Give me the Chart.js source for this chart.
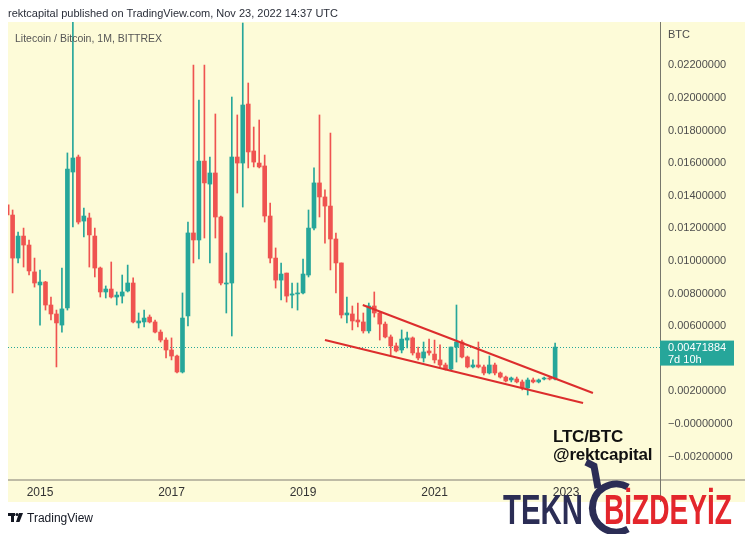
<!DOCTYPE html>
<html>
<head>
<meta charset="utf-8">
<script src="https://cdn.jsdelivr.net/npm/chart.js@4.4.1/dist/chart.umd.min.js"></script>
<style>
  body { margin: 0; background: #fff; }
  #wrap { position: relative; width: 753px; height: 534px; overflow: hidden; font-family: "Liberation Sans", Arial, sans-serif; }
  #wrap canvas { position: absolute; left: 0; top: 0; }
  .t { position: absolute; white-space: nowrap; }
  .brand { position: absolute; white-space: nowrap; transform-origin: 0 0; font-family: "Liberation Sans", Arial, sans-serif; font-weight: bold; font-size: 42px; line-height: 42px; }
</style>
</head>
<body>
<div id="wrap">
  <canvas id="ltcChart" width="753" height="534"></canvas>
  <div class="t" style="left:8px;top:7px;font-size:11px;color:#2a2e39">rektcapital published on TradingView.com, Nov 23, 2022 14:37 UTC</div>
  <div class="t" style="left:15px;top:32px;font-size:10.5px;color:#555">Litecoin / Bitcoin, 1M, BITTREX</div>
  <div class="t" style="left:553px;top:428px;font-size:17px;font-weight:bold;line-height:18px;color:#111;letter-spacing:-0.2px">LTC/BTC<br>@rektcapital</div>

  <svg style="position:absolute;left:0;top:0" width="753" height="534">
    <g fill="#131722">
      <rect x="8" y="513" width="7" height="3"/>
      <rect x="11" y="513" width="3" height="9"/>
      <circle cx="17" cy="514.5" r="1.6"/>
      <polygon points="19,513 23,513 19.5,522 16,522"/>
    </g>
    <g fill="none" stroke="#2b2d55" stroke-width="7">
      <path d="M586 462 L594 466 L598 488"/>
      <path d="M628 487 A24 24 0 1 0 628 529"/>
    </g>
  </svg>
  <div class="t" style="left:27px;top:511px;font-size:12px;color:#131722">TradingView</div>
  <div class="brand" id="brandA" data-w="80" style="left:503px;top:489px;color:#2b2d55">TEKN</div>
  <div class="brand" id="brandB" data-w="128" style="left:604px;top:489px;color:#e3262c">BİZDEYİZ</div>
</div>

<script>
// monthly candles, LTC/BTC (Bittrex)
const months = [
  '2014-07','2014-08','2014-09','2014-10','2014-11','2014-12',
  '2015-01','2015-02','2015-03','2015-04','2015-05','2015-06','2015-07','2015-08','2015-09','2015-10','2015-11','2015-12',
  '2016-01','2016-02','2016-03','2016-04','2016-05','2016-06','2016-07','2016-08','2016-09','2016-10','2016-11','2016-12',
  '2017-01','2017-02','2017-03','2017-04','2017-05','2017-06','2017-07','2017-08','2017-09','2017-10','2017-11','2017-12',
  '2018-01','2018-02','2018-03','2018-04','2018-05','2018-06','2018-07','2018-08','2018-09','2018-10','2018-11','2018-12',
  '2019-01','2019-02','2019-03','2019-04','2019-05','2019-06','2019-07','2019-08','2019-09','2019-10','2019-11','2019-12',
  '2020-01','2020-02','2020-03','2020-04','2020-05','2020-06','2020-07','2020-08','2020-09','2020-10','2020-11','2020-12',
  '2021-01','2021-02','2021-03','2021-04','2021-05','2021-06','2021-07','2021-08','2021-09','2021-10','2021-11','2021-12',
  '2022-01','2022-02','2022-03','2022-04','2022-05','2022-06','2022-07','2022-08','2022-09','2022-10','2022-11'
];

const open = [
  0.01344, 0.01282, 0.01018, 0.01153, 0.01098, 0.00933,
  0.00853, 0.00871, 0.00730, 0.00675, 0.00607, 0.00712, 0.01546, 0.01638, 0.01245, 0.01264, 0.01153, 0.00957,
  0.00810, 0.00828, 0.00779, 0.00785, 0.00816, 0.00865, 0.00620, 0.00626, 0.00656, 0.00626, 0.00564, 0.00515,
  0.00454, 0.00417, 0.00319, 0.00663, 0.01172, 0.01129, 0.01613, 0.01472, 0.01540, 0.01270, 0.00859, 0.00865,
  0.01638, 0.01601, 0.01963, 0.01675, 0.01601, 0.01583, 0.01276, 0.01018, 0.00883, 0.00926, 0.00791, 0.00798,
  0.00804, 0.00914, 0.01202, 0.01479, 0.01393, 0.01337, 0.01135, 0.00988, 0.00669, 0.00675, 0.00638, 0.00626,
  0.00571, 0.00724, 0.00681, 0.00613, 0.00534, 0.00479, 0.00454, 0.00515, 0.00528, 0.00436, 0.00405, 0.00448,
  0.00429, 0.00393, 0.00362, 0.00337, 0.00472, 0.00503, 0.00411, 0.00350, 0.00362, 0.00350, 0.00313, 0.00362,
  0.00313, 0.00288, 0.00270, 0.00276, 0.00258, 0.00221, 0.00270, 0.00258, 0.00276, 0.00282, 0.00276
];
const high = [
  0.01374, 0.01313, 0.01178, 0.01202, 0.01129, 0.01018,
  0.00945, 0.00875, 0.00779, 0.00699, 0.00957, 0.01663, 0.02600, 0.01650, 0.01325, 0.01294, 0.01202, 0.00963,
  0.00847, 0.00994, 0.00810, 0.00914, 0.00975, 0.00896, 0.00681, 0.00699, 0.00669, 0.00638, 0.00577, 0.00528,
  0.00528, 0.00423, 0.00804, 0.01239, 0.02202, 0.01988, 0.02202, 0.01638, 0.01902, 0.01276, 0.01049, 0.02006,
  0.01896, 0.02460, 0.02092, 0.01822, 0.01865, 0.01650, 0.01356, 0.01080, 0.00988, 0.00926, 0.00865, 0.00865,
  0.01012, 0.01313, 0.01571, 0.01896, 0.01436, 0.01785, 0.01172, 0.00988, 0.00779, 0.00724, 0.00742, 0.00681,
  0.00742, 0.00810, 0.00687, 0.00626, 0.00546, 0.00497, 0.00577, 0.00564, 0.00534, 0.00472, 0.00503, 0.00521,
  0.00515, 0.00485, 0.00374, 0.00472, 0.00730, 0.00515, 0.00417, 0.00393, 0.00503, 0.00362, 0.00417, 0.00374,
  0.00319, 0.00294, 0.00288, 0.00288, 0.00270, 0.00282, 0.00282, 0.00276, 0.00288, 0.00288, 0.00497
];
const low = [
  0.01270, 0.00804, 0.00988, 0.00963, 0.00914, 0.00840,
  0.00607, 0.00699, 0.00638, 0.00350, 0.00564, 0.00699, 0.01209, 0.01227, 0.01147, 0.00963, 0.00902, 0.00779,
  0.00773, 0.00773, 0.00730, 0.00742, 0.00810, 0.00620, 0.00589, 0.00595, 0.00620, 0.00558, 0.00503, 0.00405,
  0.00393, 0.00313, 0.00313, 0.00601, 0.00988, 0.01012, 0.01141, 0.00988, 0.01141, 0.00853, 0.00681, 0.00540,
  0.01417, 0.01331, 0.01571, 0.01577, 0.01571, 0.01239, 0.00988, 0.00834, 0.00761, 0.00748, 0.00712, 0.00699,
  0.00798, 0.00902, 0.01190, 0.01270, 0.01110, 0.00945, 0.00804, 0.00650, 0.00620, 0.00577, 0.00595, 0.00558,
  0.00558, 0.00656, 0.00515, 0.00528, 0.00423, 0.00442, 0.00436, 0.00466, 0.00423, 0.00393, 0.00380, 0.00423,
  0.00374, 0.00350, 0.00331, 0.00331, 0.00380, 0.00405, 0.00344, 0.00344, 0.00344, 0.00301, 0.00307, 0.00301,
  0.00282, 0.00258, 0.00258, 0.00252, 0.00209, 0.00178, 0.00252, 0.00252, 0.00270, 0.00270, 0.00270
];
const close = [
  0.01282, 0.01018, 0.01153, 0.01098, 0.00939, 0.00865,
  0.00871, 0.00730, 0.00675, 0.00620, 0.00706, 0.01564, 0.01632, 0.01239, 0.01276, 0.01160, 0.00957, 0.00810,
  0.00828, 0.00779, 0.00791, 0.00810, 0.00865, 0.00626, 0.00632, 0.00650, 0.00626, 0.00564, 0.00515, 0.00454,
  0.00417, 0.00319, 0.00650, 0.01172, 0.01129, 0.01613, 0.01479, 0.01540, 0.01270, 0.00865, 0.00865, 0.01638,
  0.01601, 0.01957, 0.01669, 0.01607, 0.01577, 0.01276, 0.01018, 0.00883, 0.00920, 0.00785, 0.00798, 0.00804,
  0.00920, 0.01202, 0.01479, 0.01393, 0.01337, 0.01135, 0.00988, 0.00669, 0.00681, 0.00632, 0.00626, 0.00571,
  0.00724, 0.00681, 0.00613, 0.00534, 0.00479, 0.00448, 0.00521, 0.00528, 0.00436, 0.00405, 0.00442, 0.00436,
  0.00393, 0.00362, 0.00337, 0.00472, 0.00503, 0.00411, 0.00350, 0.00362, 0.00350, 0.00313, 0.00362, 0.00313,
  0.00288, 0.00264, 0.00282, 0.00258, 0.00221, 0.00270, 0.00258, 0.00270, 0.00282, 0.00276, 0.00471884
];

// falling wedge drawn on the chart: [month position, price]
const wedgeUpper = [[64.9, 0.00730], [106.9, 0.00190]];
const wedgeLower = [[58.0, 0.00515], [105.1, 0.00129]];

const yearTickMonths = ['2015-01', '2017-01', '2019-01', '2021-01', '2023-01'];
const yearTickLabels = ['2015', '2017', '2019', '2021', '2023'];
const priceTicks = [-0.002, 0, 0.002, 0.006, 0.008, 0.010, 0.012, 0.014, 0.016, 0.018, 0.020, 0.022];

const UP = '#26a69a';
const DOWN = '#ef5350';

function monthIndex(m) {
  const [yy, mm] = m.split('-').map(Number);
  return (yy - 2014) * 12 + (mm - 7);
}

function fmtPrice(v) {
  return (v <= 0 ? '\u2212' : '') + Math.abs(v).toFixed(8);
}

// squeeze the watermark words to their width in the picture
document.querySelectorAll('.brand').forEach(el => {
  const w = el.getBoundingClientRect().width;
  el.style.transform = 'scaleX(' + (Number(el.dataset.w) / w) + ')';
});

const lastClose = close[close.length - 1];
const candleColors = open.map((o, i) => close[i] >= o ? UP : DOWN);
const bodies = months.map((m, i) => ({ x: monthIndex(m), y: [open[i], close[i]] }));
const wicks = months.map((m, i) => ({ x: monthIndex(m), y: [low[i], high[i]] }));

const tvFrame = {
  id: 'tvFrame',
  beforeDraw(chart) {
    const { ctx, chartArea: a, scales: { x, y } } = chart;
    ctx.save();
    ctx.fillStyle = '#fdfbd8';
    ctx.fillRect(a.left, a.top, y.right - a.left, x.bottom - a.top);
    ctx.restore();
  },
  beforeDatasetsDraw(chart) {
    const { ctx, chartArea: a, scales: { y } } = chart;
    const py = Math.round(y.getPixelForValue(lastClose)) + 0.5;
    ctx.save();
    ctx.strokeStyle = UP;
    ctx.lineWidth = 1;
    ctx.setLineDash([1, 2]);
    ctx.beginPath();
    ctx.moveTo(a.left, py);
    ctx.lineTo(a.right, py);
    ctx.stroke();
    ctx.restore();
  },
  afterDraw(chart) {
    const { ctx, chartArea: a, scales: { x, y } } = chart;
    ctx.save();
    ctx.strokeStyle = '#a8a694';
    ctx.lineWidth = 1.5;
    ctx.beginPath();
    ctx.moveTo(a.left, a.bottom);
    ctx.lineTo(y.right, a.bottom);
    ctx.stroke();
    ctx.strokeStyle = '#77776c';
    ctx.lineWidth = 1;
    ctx.beginPath();
    ctx.moveTo(a.right + 0.5, a.top);
    ctx.lineTo(a.right + 0.5, x.bottom);
    ctx.stroke();

    ctx.font = '11px "Liberation Sans", Arial, sans-serif';
    ctx.fillStyle = '#4d4d4d';
    ctx.textBaseline = 'middle';
    ctx.fillText('BTC', a.right + 8, a.top + 13);

    const py = y.getPixelForValue(lastClose);
    ctx.fillStyle = UP;
    ctx.fillRect(a.right, py - 6.5, 74, 25);
    ctx.fillStyle = '#ffffff';
    ctx.fillText(fmtPrice(lastClose), a.right + 8, py + 0.5);
    ctx.fillText('7d 10h', a.right + 8, py + 12.5);
    ctx.restore();
  }
};

Chart.defaults.font.family = '"Liberation Sans", Arial, sans-serif';

new Chart(document.getElementById('ltcChart'), {
  type: 'bar',
  data: {
    datasets: [
      {
        type: 'line',
        data: wedgeUpper.map(([mx, v]) => ({ x: mx, y: v })),
        borderColor: '#dc2d2d',
        borderWidth: 2,
        pointRadius: 0
      },
      {
        type: 'line',
        data: wedgeLower.map(([mx, v]) => ({ x: mx, y: v })),
        borderColor: '#dc2d2d',
        borderWidth: 2,
        pointRadius: 0
      },
      {
        data: bodies,
        backgroundColor: candleColors,
        barThickness: 4,
        grouped: false,
        minBarLength: 1
      },
      {
        data: wicks,
        backgroundColor: candleColors,
        barThickness: 1,
        grouped: false
      }
    ]
  },
  options: {
    responsive: false,
    animation: false,
    events: [],
    layout: { padding: { left: 8, top: 22, right: 8, bottom: 32 } },
    plugins: { legend: { display: false }, tooltip: { enabled: false } },
    scales: {
      x: {
        type: 'linear',
        min: 0.16,
        max: 119.14,
        offset: false,
        grid: { display: false, drawTicks: false },
        border: { display: false },
        afterBuildTicks: s => { s.ticks = yearTickMonths.map(m => ({ value: monthIndex(m) })); },
        afterFit: s => { s.height = 22; },
        ticks: {
          autoSkip: false,
          maxRotation: 0,
          padding: 5,
          color: '#333',
          font: { size: 12 },
          callback: v => yearTickLabels[yearTickMonths.findIndex(m => monthIndex(m) === v)]
        }
      },
      y: {
        position: 'right',
        min: -0.003436,
        max: 0.024663,
        grid: { display: false, drawTicks: false },
        border: { display: false },
        afterBuildTicks: s => { s.ticks = priceTicks.map(v => ({ value: v })); },
        afterFit: s => { s.width = 85; },
        ticks: {
          padding: 8,
          color: '#4d4d4d',
          font: { size: 11 },
          callback: v => fmtPrice(v)
        }
      }
    }
  },
  plugins: [tvFrame]
});
</script>
</body>
</html>
